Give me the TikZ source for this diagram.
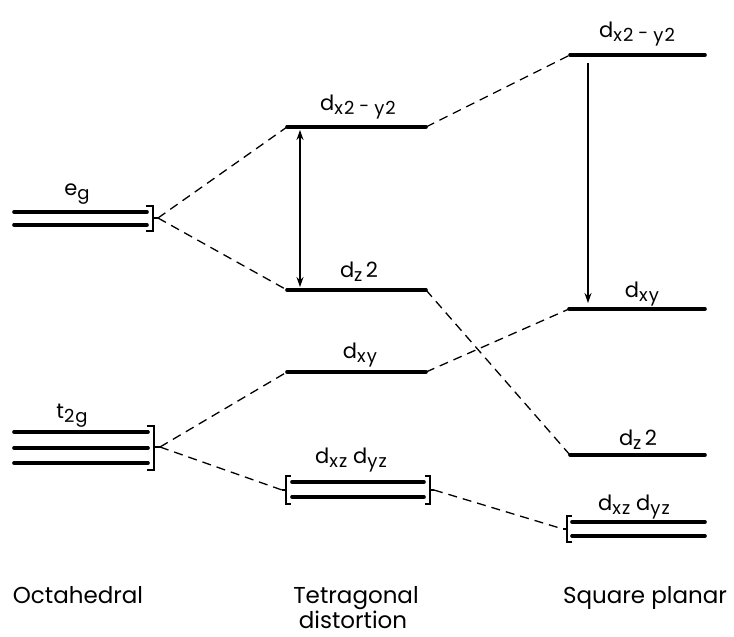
\documentclass[tikz,border=0pt]{standalone}
\usepackage{fontspec}
\setmainfont{Poppins}
\usetikzlibrary{arrows.meta}
\tikzset{
  level/.style={line width=3.6pt, line cap=round},
  brack/.style={line width=1.8pt},
  conn/.style={line width=1.3pt, dash pattern=on 9pt off 6pt},
  lab/.style={font=\fontsize{23}{26}\selectfont, inner sep=0pt, anchor=base},
  orb/.style={font=\fontsize{21}{24}\selectfont, inner sep=0pt, anchor=base},
  gap/.style={line width=1.3pt, -{Stealth[length=10pt,width=7pt]}}
}
\newcommand{\sbs}[1]{\raisebox{-4pt}{\fontsize{18}{19}\selectfont\addfontfeature{LetterSpace=6} #1}}
\newcommand{\mns}{\;\raisebox{2pt}{-}\;}
\begin{document}
\begin{tikzpicture}[x=1pt,y=-1pt]
\useasboundingbox (0,0) rectangle (734,637);
% ---------- Octahedral ----------
\draw[level] (14,212) -- (147,212);
\draw[level] (14,225) -- (147,225);
\draw[brack] (146,206) -- (153,206) -- (153,231) -- (146,231);
\draw[brack] (153,218) -- (158,218);
\coordinate (eg) at (158,218);
\node[orb] (eglab) at (77,195) {e\sbs{g}};

\draw[level] (14,432) -- (148,432);
\draw[level] (14,448) -- (148,448);
\draw[level] (14,463) -- (148,463);
\draw[brack] (147,426) -- (154,426) -- (154,470) -- (147,470);
\draw[brack] (154,447) -- (160,447);
\coordinate (tg) at (160,447);
\node[orb] (tglab) at (72,418) {t\sbs{2g}};

% ---------- Tetragonal ----------
\coordinate (Tx2L) at (287,127); \coordinate (Tx2R) at (426,127);
\draw[level] (Tx2L) -- (Tx2R);
\node[orb] (Tx2lab) at (358,110) {d\sbs{x2\mns y2}};

\coordinate (Tz2L) at (287,290); \coordinate (Tz2R) at (426,290);
\draw[level] (Tz2L) -- (Tz2R);
\node[orb] (Tz2lab) at (359,277) {d\sbs{z}\,2};

\coordinate (TxyL) at (287,372); \coordinate (TxyR) at (426,372);
\draw[level] (TxyL) -- (TxyR);
\node[orb] (Txylab) at (360,358) {d\sbs{xy}};

\draw[level] (292,482) -- (424,482);
\draw[level] (292,497) -- (424,497);
\draw[brack] (291,476) -- (286,476) -- (286,504) -- (291,504);
\draw[brack] (425,476) -- (430,476) -- (430,504) -- (425,504);
\draw[brack] (286,490) -- (282,490);
\draw[brack] (430,490) -- (434,490);
\coordinate (TxzL) at (282,490); \coordinate (TxzR) at (434,490);
\node[orb] (Txzlab) at (351,463) {d\sbs{xz}\;d\sbs{yz}};

\coordinate (Atop) at (300,130); \coordinate (Abot) at (300,287);
\draw[gap, {Stealth[length=10pt,width=7pt]}-{Stealth[length=10pt,width=7pt]}] (Atop) -- (Abot);

% ---------- Square planar ----------
\coordinate (Sx2L) at (570,55); \coordinate (Sx2R) at (705,55);
\draw[level] (Sx2L) -- (Sx2R);
\node[orb] (Sx2lab) at (637,37) {d\sbs{x2\mns y2}};

\coordinate (SxyL) at (569,309); \coordinate (SxyR) at (705,309);
\draw[level] (SxyL) -- (SxyR);
\node[orb] (Sxylab) at (642,297) {d\sbs{xy}};

\coordinate (Sz2L) at (570,455); \coordinate (Sz2R) at (705,455);
\draw[level] (Sz2L) -- (Sz2R);
\node[orb] (Sz2lab) at (638,445) {d\sbs{z}\,2};

\draw[level] (572,522) -- (705,522);
\draw[level] (572,536) -- (705,536);
\draw[brack] (572,516) -- (567,516) -- (567,542) -- (572,542);
\draw[brack] (567,529) -- (563,529);
\coordinate (SxzL) at (563,529);
\node[orb] (Sxzlab) at (634,510) {d\sbs{xz}\;d\sbs{yz}};

\coordinate (Btop) at (588,63); \coordinate (Bbot) at (588,303);
\draw[gap] (Btop) -- (Bbot);

% ---------- correlation lines ----------
\draw[conn] (eg) -- (Tx2L);
\draw[conn] (eg) -- (Tz2L);
\draw[conn] (tg) -- (TxyL);
\draw[conn] (tg) -- (TxzL);
\draw[conn] (Tx2R) -- (Sx2L);
\draw[conn] (Tz2R) -- (Sz2L);
\draw[conn] (TxyR) -- (SxyL);
\draw[conn] (TxzR) -- (SxzL);

% ---------- captions ----------
\node[lab] (c1) at (78,603) {Octahedral};
\node[lab] (c2) at (356,603) {Tetragonal};
\node[lab] (c2b) at (353,628) {distortion};
\node[lab] (c3) at (645,603) {Square planar};
\end{tikzpicture}
\end{document}
